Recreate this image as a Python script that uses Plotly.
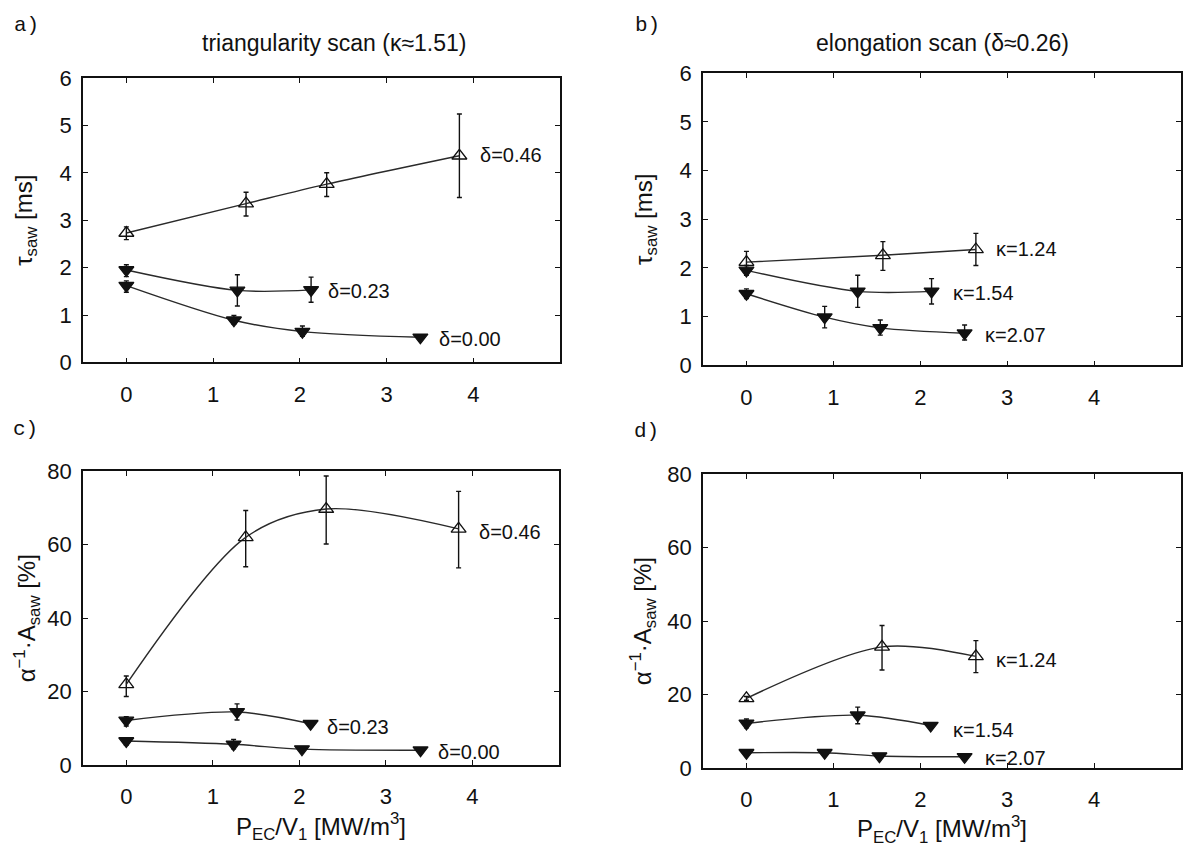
import plotly.graph_objects as go

# ---------------- data ----------------
# panel a: tau_saw vs P_EC/V1, triangularity scan
a_d046_x = [0.0, 1.38, 2.31, 3.84]
a_d046_y = [2.73, 3.35, 3.76, 4.36]
a_d046_ep = [0.13, 0.24, 0.24, 0.88]
a_d046_em = [0.14, 0.26, 0.26, 0.88]
a_d023_x = [0.0, 1.28, 2.13]
a_d023_y = [1.95, 1.52, 1.53]
a_d023_ep = [0.11, 0.33, 0.27]
a_d023_em = [0.14, 0.33, 0.26]
a_d000_x = [0.0, 1.24, 2.03, 3.39]
a_d000_y = [1.62, 0.89, 0.65, 0.53]
a_d000_ep = [0.10, 0.10, 0.12, 0.04]
a_d000_em = [0.14, 0.08, 0.10, 0.04]

# panel b: tau_saw, elongation scan
b_k124_x = [0.0, 1.57, 2.64]
b_k124_y = [2.12, 2.26, 2.38]
b_k124_ep = [0.22, 0.28, 0.33]
b_k124_em = [0.18, 0.31, 0.33]
b_k154_x = [0.0, 1.28, 2.13]
b_k154_y = [1.95, 1.52, 1.52]
b_k154_ep = [0.10, 0.33, 0.26]
b_k154_em = [0.10, 0.33, 0.26]
b_k207_x = [0.0, 0.9, 1.54, 2.51]
b_k207_y = [1.47, 0.99, 0.77, 0.66]
b_k207_ep = [0.10, 0.22, 0.16, 0.17]
b_k207_em = [0.10, 0.22, 0.15, 0.14]

# panel c: alpha^-1 A_saw, triangularity scan
c_d046_x = [0.0, 1.38, 2.31, 3.84]
c_d046_y = [22.0, 62.0, 69.7, 64.3]
c_d046_ep = [2.3, 7.3, 9.0, 10.2]
c_d046_em = [3.3, 8.0, 9.5, 10.6]
c_d023_x = [0.0, 1.28, 2.13]
c_d023_y = [12.2, 14.5, 11.3]
c_d023_ep = [1.0, 2.2, 0.8]
c_d023_em = [1.5, 2.2, 0.8]
c_d000_x = [0.0, 1.24, 2.03, 3.40]
c_d000_y = [6.6, 5.7, 4.4, 4.1]
c_d000_ep = [0.9, 1.3, 0.6, 0.5]
c_d000_em = [1.1, 1.2, 0.6, 0.5]

# panel d: alpha^-1 A_saw, elongation scan
d_k124_x = [0.0, 1.56, 2.64]
d_k124_y = [19.0, 33.0, 30.4]
d_k124_ep = [0.5, 5.8, 4.3]
d_k124_em = [0.5, 6.3, 4.4]
d_k154_x = [0.0, 1.28, 2.12]
d_k154_y = [12.2, 14.4, 11.6]
d_k154_ep = [1.2, 2.2, 0.6]
d_k154_em = [1.2, 2.3, 0.6]
d_k207_x = [0.0, 0.9, 1.53, 2.51]
d_k207_y = [4.2, 4.2, 3.3, 3.1]
d_k207_ep = [0.4, 0.3, 0.3, 0.3]
d_k207_em = [0.4, 0.3, 0.3, 0.3]

x_ticks = [0, 1, 2, 3, 4]
tau_ticks = [0, 1, 2, 3, 4, 5, 6]
amp_ticks = [0, 20, 40, 60, 80]

FONT = "Liberation Sans, Arial, sans-serif"
MONO = "Liberation Mono, Courier New, monospace"
INK = "#111111"

fig = go.Figure()


def add_series(x, y, ep, em, ax, filled, label, lx, ly):
    xa = "x" if ax == 1 else f"x{ax}"
    ya = "y" if ax == 1 else f"y{ax}"
    fig.add_trace(go.Scatter(
        x=x, y=y, xaxis=xa, yaxis=ya, mode="lines+markers",
        line=dict(color="#2a2a2a", width=1.4, shape="spline", smoothing=0.9),
        marker=dict(
            symbol="triangle-down" if filled else "triangle-up-open",
            size=13,
            color=INK, line=dict(color=INK, width=1.3)),
        error_y=dict(type="data", array=ep, arrayminus=em, symmetric=False,
                     color=INK, thickness=1.4, width=2.5),
        name=label, showlegend=False,
    ))
    fig.add_annotation(x=lx, y=ly, xref=xa, yref=ya, text=label,
                       showarrow=False, xanchor="left", yanchor="middle",
                       font=dict(family=FONT, size=20, color=INK))


# panel a
add_series(a_d046_x, a_d046_y, a_d046_ep, a_d046_em, 1, False, "δ=0.46", 4.05, 4.38)
add_series(a_d023_x, a_d023_y, a_d023_ep, a_d023_em, 1, True, "δ=0.23", 2.3, 1.5)
add_series(a_d000_x, a_d000_y, a_d000_ep, a_d000_em, 1, True, "δ=0.00", 3.58, 0.5)
# panel b
add_series(b_k124_x, b_k124_y, b_k124_ep, b_k124_em, 2, False, "κ=1.24", 2.85, 2.38)
add_series(b_k154_x, b_k154_y, b_k154_ep, b_k154_em, 2, True, "κ=1.54", 2.35, 1.48)
add_series(b_k207_x, b_k207_y, b_k207_ep, b_k207_em, 2, True, "κ=2.07", 2.72, 0.62)
# panel c
add_series(c_d046_x, c_d046_y, c_d046_ep, c_d046_em, 3, False, "δ=0.46", 4.05, 63.5)
add_series(c_d023_x, c_d023_y, c_d023_ep, c_d023_em, 3, True, "δ=0.23", 2.3, 10.5)
add_series(c_d000_x, c_d000_y, c_d000_ep, c_d000_em, 3, True, "δ=0.00", 3.58, 3.6)
# panel d
add_series(d_k124_x, d_k124_y, d_k124_ep, d_k124_em, 4, False, "κ=1.24", 2.85, 29.5)
add_series(d_k154_x, d_k154_y, d_k154_ep, d_k154_em, 4, True, "κ=1.54", 2.35, 10.5)
add_series(d_k207_x, d_k207_y, d_k207_ep, d_k207_em, 4, True, "κ=2.07", 2.72, 2.8)

W, H = 1188, 854


def xdom(l, r):
    return [l / W, r / W]


def ydom(t, b):
    return [1 - b / H, 1 - t / H]


axis_common = dict(
    showline=True, linecolor=INK, linewidth=1.6, mirror="allticks",
    ticks="inside", ticklen=5, tickwidth=1.2, tickcolor=INK,
    showgrid=False, zeroline=False,
    tickfont=dict(family=FONT, size=22, color=INK),
)

xt = "P<sub>EC</sub>/V<sub>1</sub> [MW/m<sup>3</sup>]"
yt_tau = "τ<sub>saw</sub> [ms]"
yt_amp = "α<sup>−1</sup>·A<sub>saw</sub> [%]"

layout_axes = {}
specs = [
    (1, xdom(83, 560), ydom(68, 361), [-0.5, 5], [0, 6], tau_ticks, yt_tau, None, 20),
    (2, xdom(703, 1181), ydom(63, 364), [-0.5, 5], [0, 6], tau_ticks, yt_tau, None, 20),
    (3, xdom(83, 559), ydom(473, 776), [-0.5, 5], [0, 80], amp_ticks, yt_amp, xt, 5),
    (4, xdom(703, 1181), ydom(476, 779), [-0.5, 5], [0, 80], amp_ticks, yt_amp, xt, 9),
]
for i, xd, yd, xr, yr, yticks, ytitle, xtitle, ystand in specs:
    xk = "xaxis" if i == 1 else f"xaxis{i}"
    yk = "yaxis" if i == 1 else f"yaxis{i}"
    xa = dict(axis_common, domain=xd, range=xr, tickvals=x_ticks,
              anchor="y" if i == 1 else f"y{i}", ticklabelstandoff=11)
    if xtitle:
        xa["title"] = dict(text=xtitle, font=dict(family=FONT, size=24, color=INK), standoff=6)
    ya = dict(axis_common, domain=yd, range=yr, tickvals=yticks,
              anchor="x" if i == 1 else f"x{i}", ticklabelstandoff=5,
              title=dict(text=ytitle, font=dict(family=FONT, size=24, color=INK), standoff=ystand))
    layout_axes[xk] = xa
    layout_axes[yk] = ya

fig.update_layout(
    width=W, height=H,
    margin=dict(l=0, r=0, t=0, b=0),
    paper_bgcolor="white", plot_bgcolor="white",
    showlegend=False,
    **layout_axes,
)

# titles and panel letters
fig.add_annotation(x=334 / W, y=1 - 32 / H, xref="paper", yref="paper",
                   text="triangularity scan (κ≈1.51)", showarrow=False,
                   xanchor="center", yanchor="middle",
                   font=dict(family=FONT, size=23, color=INK))
fig.add_annotation(x=942 / W, y=1 - 32 / H, xref="paper", yref="paper",
                   text="elongation scan (δ≈0.26)", showarrow=False,
                   xanchor="center", yanchor="middle",
                   font=dict(family=FONT, size=23, color=INK))
for txt, px, py in [("a)", 12, 14), ("b)", 633, 14), ("c)", 11, 430), ("d)", 632, 432)]:
    fig.add_annotation(x=px / W, y=1 - py / H, xref="paper", yref="paper",
                       text=txt, showarrow=False, xanchor="left", yanchor="middle",
                       font=dict(family=MONO, size=21, color=INK))

fig.write_html("out.html", config={"displayModeBar": False},
               post_script="document.body.style.margin='0';")
